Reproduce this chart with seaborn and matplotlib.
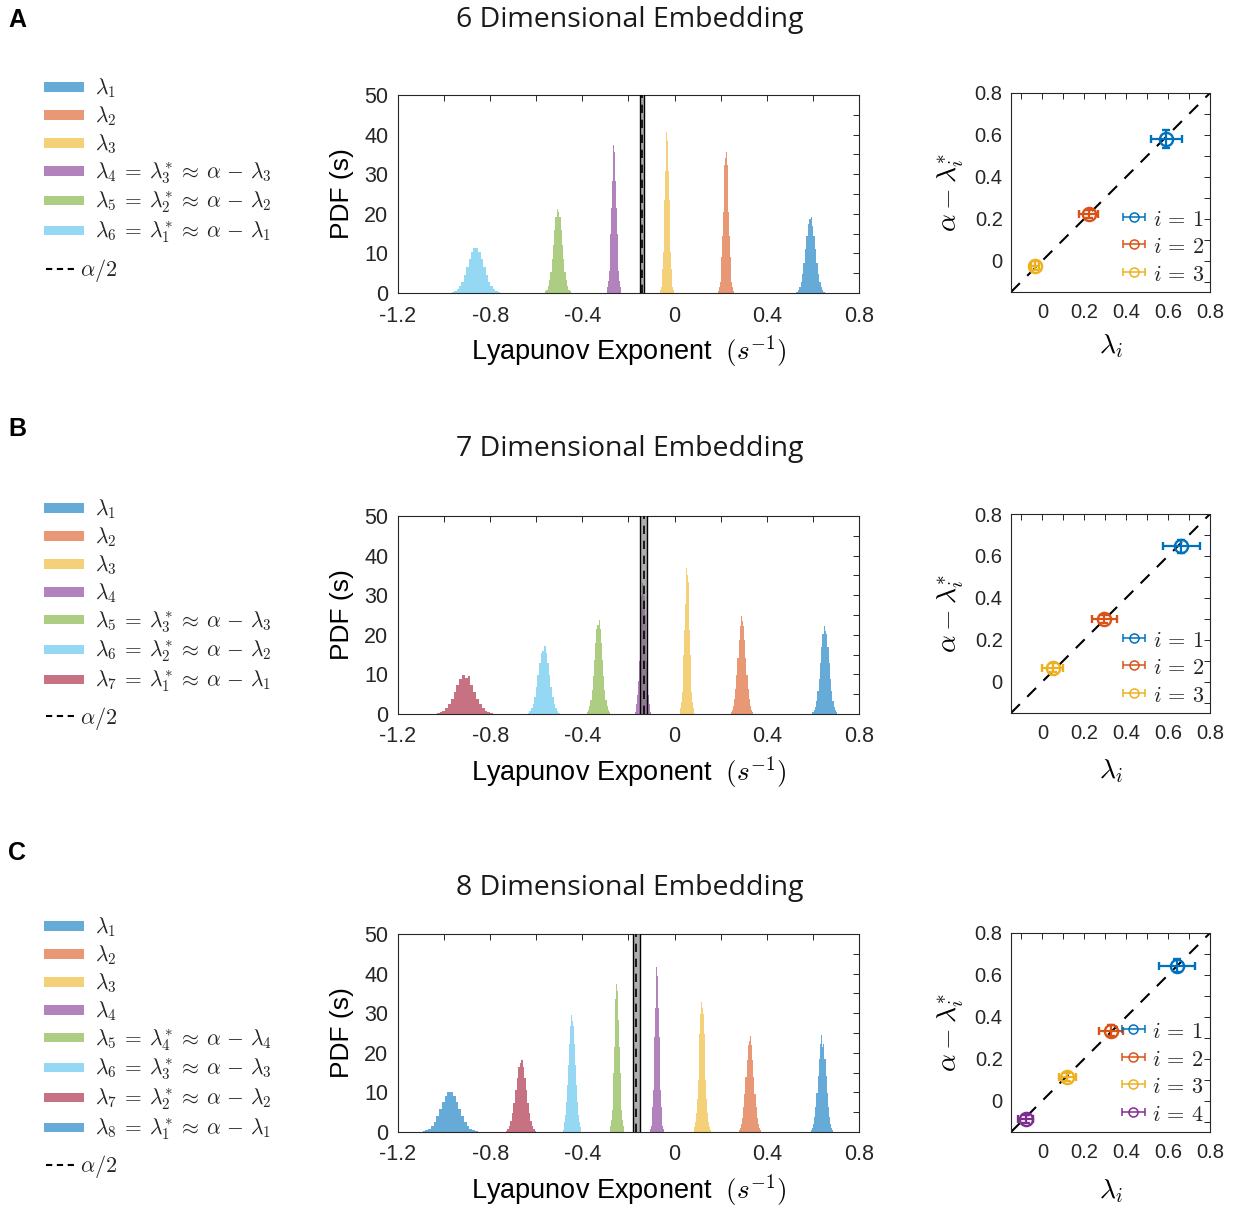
import numpy as np
import pandas as pd
import matplotlib
matplotlib.use("Agg")
import matplotlib.pyplot as plt
import seaborn as sns
from matplotlib.patches import Patch, Rectangle
from matplotlib.lines import Line2D
from matplotlib.legend_handler import HandlerPatch
from matplotlib.ticker import MultipleLocator, FuncFormatter

# ---------------- data ----------------
dims = [6, 7, 8]
panel_letters = ["A", "B", "C"]

# histogram bin ranges (lo, hi) and bin heights (PDF, s) for each exponent
pdf6_lo = [0.528, 0.189, -0.062, -0.295, -0.562, -0.967]
pdf6_hi = [0.652, 0.257, -0.004, -0.231, -0.450, -0.757]
pdf6_h = [
    [0.3, 0.7, 1.5, 2.9, 4.9, 7.7, 11.1, 14.5, 17.4, 18.6, 19.2, 17.0, 14.5, 11.1, 7.7, 4.9, 2.9, 1.5, 0.7, 0.3],
    [0.6, 1.4, 2.8, 5.3, 9.1, 14.3, 20.5, 26.9, 32.2, 34.0, 35.6, 32.2, 26.9, 20.5, 14.3, 9.1, 5.3, 2.8, 1.4, 0.6],
    [0.7, 1.6, 3.3, 6.1, 10.4, 16.4, 23.4, 30.7, 36.8, 40.7, 38.5, 36.8, 30.7, 23.4, 16.4, 10.4, 6.1, 3.3, 1.6, 0.7],
    [0.6, 1.5, 3.0, 5.6, 9.6, 15.0, 21.5, 28.2, 33.8, 37.4, 35.5, 33.8, 28.2, 21.5, 15.0, 9.6, 5.6, 3.0, 1.5, 0.6],
    [0.4, 0.8, 1.7, 3.2, 5.4, 8.5, 12.2, 16.0, 19.2, 21.2, 20.5, 19.2, 16.0, 12.2, 8.5, 5.4, 3.2, 1.7, 0.8, 0.4],
    [0.2, 0.4, 0.9, 1.7, 2.9, 4.6, 6.6, 8.6, 10.3, 11.3, 11.4, 10.3, 8.6, 6.6, 4.6, 2.9, 1.7, 0.9, 0.4, 0.2],
]
pdf7_lo = [0.598, 0.243, 0.022, -0.173, -0.380, -0.637, -1.032]
pdf7_hi = [0.706, 0.341, 0.086, -0.101, -0.280, -0.497, -0.788]
pdf7_h = [
    [0.4, 0.9, 1.8, 3.3, 5.7, 8.9, 12.8, 16.8, 20.1, 22.2, 21.0, 20.1, 16.8, 12.8, 8.9, 5.7, 3.3, 1.8, 0.9, 0.4],
    [0.4, 1.0, 2.0, 3.7, 6.3, 9.9, 14.2, 18.6, 22.3, 24.7, 23.5, 22.3, 18.6, 14.2, 9.9, 6.3, 3.7, 2.0, 1.0, 0.4],
    [0.6, 1.4, 3.0, 5.5, 9.4, 14.8, 21.3, 27.9, 33.4, 36.9, 35.0, 33.4, 27.9, 21.3, 14.8, 9.4, 5.5, 3.0, 1.4, 0.6],
    [0.6, 1.3, 2.6, 4.9, 8.4, 13.3, 19.0, 24.9, 29.8, 33.0, 31.5, 29.8, 24.9, 19.0, 13.3, 8.4, 4.9, 2.6, 1.3, 0.6],
    [0.4, 0.9, 1.9, 3.5, 6.1, 9.5, 13.7, 17.9, 21.4, 22.5, 23.7, 21.4, 17.9, 13.7, 9.5, 6.1, 3.5, 1.9, 0.9, 0.4],
    [0.3, 0.7, 1.4, 2.6, 4.4, 6.9, 9.9, 13.0, 15.5, 16.0, 17.2, 15.5, 13.0, 9.9, 6.9, 4.4, 2.6, 1.4, 0.7, 0.3],
    [0.2, 0.4, 0.8, 1.5, 2.5, 3.9, 5.6, 7.4, 8.9, 9.8, 9.2, 9.6, 7.4, 5.6, 3.9, 2.5, 1.5, 0.8, 0.4, 0.2],
]
pdf8_lo = [0.591, 0.278, 0.082, -0.105, -0.282, -0.486, -0.732, -1.093]
pdf8_hi = [0.689, 0.376, 0.156, -0.047, -0.218, -0.404, -0.600, -0.855]
pdf8_h = [
    [0.4, 1.0, 2.0, 3.7, 6.3, 9.8, 14.1, 18.5, 22.1, 24.5, 21.5, 22.1, 18.5, 14.1, 9.8, 6.3, 3.7, 2.0, 1.0, 0.4],
    [0.4, 0.9, 1.9, 3.6, 6.2, 9.7, 13.9, 18.3, 21.9, 23.0, 24.2, 21.9, 18.3, 13.9, 9.7, 6.2, 3.6, 1.9, 0.9, 0.4],
    [0.6, 1.3, 2.6, 4.9, 8.4, 13.2, 18.9, 24.8, 29.7, 32.8, 31.2, 29.7, 24.8, 18.9, 13.2, 8.4, 4.9, 2.6, 1.3, 0.6],
    [0.7, 1.6, 3.3, 6.2, 10.6, 16.7, 24.0, 31.4, 37.6, 41.6, 39.5, 37.6, 31.4, 24.0, 16.7, 10.6, 6.2, 3.3, 1.6, 0.7],
    [0.6, 1.5, 3.0, 5.6, 9.5, 15.0, 21.5, 28.2, 33.7, 37.3, 35.5, 33.7, 28.2, 21.5, 15.0, 9.5, 5.6, 3.0, 1.5, 0.6],
    [0.5, 1.2, 2.4, 4.4, 7.6, 11.9, 17.0, 22.3, 26.7, 29.5, 28.0, 26.7, 22.3, 17.0, 11.9, 7.6, 4.4, 2.4, 1.2, 0.5],
    [0.3, 0.7, 1.5, 2.7, 4.7, 7.3, 10.5, 13.7, 16.5, 17.5, 18.2, 16.5, 13.7, 10.5, 7.3, 4.7, 2.7, 1.5, 0.7, 0.3],
    [0.2, 0.4, 0.8, 1.5, 2.6, 4.1, 5.8, 7.6, 9.1, 10.0, 10.1, 9.1, 7.6, 5.8, 4.1, 2.6, 1.5, 0.8, 0.4, 0.2],
]

# alpha/2 estimate and half-width of its uncertainty band
alpha_half = [-0.141, -0.133, -0.167]
alpha_band = [0.0085, 0.015, 0.015]

# legend labels
labels6 = [r"$\lambda_1$", r"$\lambda_2$", r"$\lambda_3$",
           r"$\lambda_4 \:=\: \lambda_3^{*} \:\approx\: \alpha \,-\, \lambda_3$",
           r"$\lambda_5 \:=\: \lambda_2^{*} \:\approx\: \alpha \,-\, \lambda_2$",
           r"$\lambda_6 \:=\: \lambda_1^{*} \:\approx\: \alpha \,-\, \lambda_1$"]
labels7 = [r"$\lambda_1$", r"$\lambda_2$", r"$\lambda_3$", r"$\lambda_4$",
           r"$\lambda_5 \:=\: \lambda_3^{*} \:\approx\: \alpha \,-\, \lambda_3$",
           r"$\lambda_6 \:=\: \lambda_2^{*} \:\approx\: \alpha \,-\, \lambda_2$",
           r"$\lambda_7 \:=\: \lambda_1^{*} \:\approx\: \alpha \,-\, \lambda_1$"]
labels8 = [r"$\lambda_1$", r"$\lambda_2$", r"$\lambda_3$", r"$\lambda_4$",
           r"$\lambda_5 \:=\: \lambda_4^{*} \:\approx\: \alpha \,-\, \lambda_4$",
           r"$\lambda_6 \:=\: \lambda_3^{*} \:\approx\: \alpha \,-\, \lambda_3$",
           r"$\lambda_7 \:=\: \lambda_2^{*} \:\approx\: \alpha \,-\, \lambda_2$",
           r"$\lambda_8 \:=\: \lambda_1^{*} \:\approx\: \alpha \,-\, \lambda_1$"]

# scatter: lambda_i vs alpha - lambda_i^*
sc6_x = [0.590, 0.222, -0.035]
sc6_y = [0.580, 0.222, -0.024]
sc6_xerr = [0.074, 0.045, 0.020]
sc6_yerr = [0.043, 0.020, 0.020]
sc7_x = [0.663, 0.295, 0.050]
sc7_y = [0.645, 0.300, 0.067]
sc7_xerr = [0.087, 0.060, 0.050]
sc7_yerr = [0.030, 0.020, 0.020]
sc8_x = [0.642, 0.327, 0.118, -0.080]
sc8_y = [0.644, 0.334, 0.113, -0.089]
sc8_xerr = [0.086, 0.056, 0.040, 0.035]
sc8_yerr = [0.030, 0.025, 0.020, 0.020]

# ---------------- style ----------------
sns.set_theme(style="white")
plt.rcParams['font.family'] = ['Liberation Sans', 'DejaVu Sans']
plt.rcParams['mathtext.fontset'] = 'cm'
plt.rcParams['axes.unicode_minus'] = False

mat_cols = ['#0072BD', '#D95319', '#EDB120', '#7E2F8E', '#77AC30', '#4DBEEE', '#A2142F']
AX_COL = '#262626'

rows = [
    (pdf6_lo, pdf6_hi, pdf6_h, labels6, sc6_x, sc6_y, sc6_xerr, sc6_yerr),
    (pdf7_lo, pdf7_hi, pdf7_h, labels7, sc7_x, sc7_y, sc7_xerr, sc7_yerr),
    (pdf8_lo, pdf8_hi, pdf8_h, labels8, sc8_x, sc8_y, sc8_xerr, sc8_yerr),
]

W, H = 1234, 1210
fig = plt.figure(figsize=(W / 100, H / 100), dpi=100)

def fx(px):
    return px / W

def fy(px):
    return 1 - px / H

def fmt(v, p):
    if abs(v) < 1e-9:
        return "0"
    return ("%g" % round(v, 3))

def thin_patch(legend, orig_handle, xdescent, ydescent, width, height, fontsize):
    return Rectangle((-xdescent, -ydescent + 0.31 * height), width, 0.38 * height)

hist_tops = [95, 516, 934]
sc_tops = [93, 514, 933]
title_y = [20, 449, 888]
letter_y = [20, 429, 853]
legend_tops = [75, 496, 914]
dash_y = [271, 718, 1167]
sc_xlabel_pad = [7, 10, 11]

def style_axes(ax, labelsize):
    for s in ax.spines.values():
        s.set_color(AX_COL)
        s.set_linewidth(0.8)
        s.set_visible(True)
    ax.tick_params(which='both', direction='in', top=True, right=True,
                   length=4, width=0.7, colors=AX_COL, labelsize=labelsize)
    ax.tick_params(which='both', labelcolor='#262626')

for r, (los, his, hs, labs, sx, sy, sxe, sye) in enumerate(rows):
    top = hist_tops[r]
    ax = fig.add_axes([fx(398), fy(top + 198), fx(461), 198 / H])
    handles = []
    for k, (lo, hi, h) in enumerate(zip(los, his, hs)):
        col = mat_cols[k % 7]
        nb = len(h)
        bw = (hi - lo) / nb
        centers = [lo + bw * (j + 0.5) for j in range(nb)]
        df = pd.DataFrame({"x": centers, "w": h})
        sns.histplot(data=df, x="x", weights="w", binwidth=bw, binrange=(lo, hi),
                     stat='count', element='step', fill=True, color=col,
                     alpha=0.6, linewidth=0, ax=ax)
        handles.append(Patch(facecolor=col, alpha=0.6, edgecolor='none'))
    a = alpha_half[r]
    hw = alpha_band[r]
    ax.axvspan(a - hw, a + hw, facecolor='#777777', alpha=0.6, lw=0, zorder=3)
    ax.axvline(a - hw, color='black', lw=1.0, zorder=4)
    ax.axvline(a + hw, color='black', lw=1.0, zorder=4)
    ax.axvline(a, color='black', lw=1.2, ls=(0, (5, 4)), zorder=5)
    ax.set_xlim(-1.2, 0.8)
    ax.set_ylim(0, 50)
    ax.xaxis.set_major_locator(MultipleLocator(0.4))
    ax.xaxis.set_minor_locator(MultipleLocator(0.2))
    ax.yaxis.set_major_locator(MultipleLocator(10))
    ax.yaxis.set_minor_locator(MultipleLocator(5))
    ax.xaxis.set_major_formatter(FuncFormatter(fmt))
    ax.yaxis.set_major_formatter(FuncFormatter(fmt))
    style_axes(ax, 15.5)
    ax.tick_params(axis='x', pad=9)
    ax.tick_params(axis='y', pad=7)
    ax.set_xlabel(r"Lyapunov Exponent  $(s^{-1})$", fontsize=19.5, color='black', labelpad=5)
    ax.set_ylabel("PDF (s)", fontsize=19, color='black', labelpad=7)

    # left legend
    fig.legend(handles=handles, labels=labs, loc='upper left',
               bbox_to_anchor=(fx(44), fy(legend_tops[r])), frameon=False,
               fontsize=15.5, handlelength=1.85, handleheight=1.35,
               handletextpad=0.5, labelspacing=0.14, borderpad=0, borderaxespad=0,
               handler_map={Patch: HandlerPatch(patch_func=thin_patch)})
    fig.legend(handles=[Line2D([], [], color='black', lw=1.5, ls=(0, (3, 2.2)))],
               labels=[r"$\alpha/2$"], loc='center left',
               bbox_to_anchor=(fx(46), fy(dash_y[r])), frameon=False,
               fontsize=16, handlelength=1.4, handletextpad=0.15,
               borderpad=0, borderaxespad=0)

    # title and panel letter
    fig.text(fx(630), fy(title_y[r]), f"{dims[r]} Dimensional Embedding",
             ha='center', va='center', fontsize=20.5, family=['Open Sans', 'DejaVu Sans'],
             color='#1a1a1a')
    fig.text(fx(8), fy(letter_y[r]), panel_letters[r], ha='left', va='center',
             fontsize=18, fontweight='bold', color='black')

    # scatter panel
    st = sc_tops[r]
    ax2 = fig.add_axes([fx(1011), fy(st + 199), fx(199), 199 / H])
    leg_handles = []
    for k in range(len(sx)):
        col = mat_cols[k]
        ax2.errorbar(sx[k], sy[k], xerr=sxe[k], yerr=sye[k], fmt='o',
                     mfc='none', mec=col, ms=9.5, mew=1.7, ecolor=col,
                     elinewidth=1.6, capsize=3, capthick=1.6, color=col, zorder=3)
        proxy = ax2.errorbar([np.nan], [np.nan], xerr=[0.05], fmt='o',
                             mfc='none', mec=col, ms=6.5, mew=1.1, ecolor=col,
                             elinewidth=1.1, capsize=3, capthick=1.1, color=col,
                             label=f"$i \\,=\\, {k + 1}$")
        leg_handles.append(proxy)
    ax2.axline((0, 0), slope=1, color='black', lw=1.5, ls=(0, (6, 5)), zorder=2)
    ax2.set_xlim(-0.15, 0.8)
    ax2.set_ylim(-0.15, 0.8)
    for axis in (ax2.xaxis, ax2.yaxis):
        axis.set_major_locator(MultipleLocator(0.2))
        axis.set_minor_locator(MultipleLocator(0.1))
        axis.set_major_formatter(FuncFormatter(fmt))
    style_axes(ax2, 14.5)
    ax2.tick_params(axis='x', pad=8)
    ax2.tick_params(axis='y', pad=6)
    ax2.set_xlabel(r"$\lambda_i$", fontsize=20, color='black', labelpad=sc_xlabel_pad[r])
    ax2.set_ylabel(r"$\alpha - \lambda_i^{*}$", fontsize=20, color='black', labelpad=6)
    ax2.legend(handles=leg_handles, loc='lower right', frameon=False, fontsize=16,
               handlelength=1.0, handleheight=1.1, handletextpad=0.35,
               labelspacing=0.2, borderpad=0.05, borderaxespad=0.22)

fig.savefig("out.png", dpi=100)
